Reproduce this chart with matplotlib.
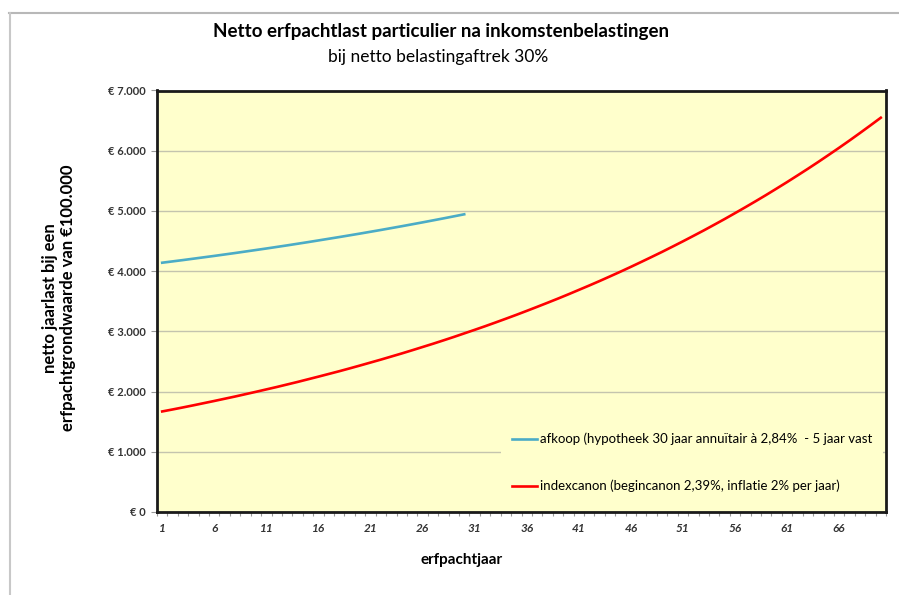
import numpy as np
import matplotlib
matplotlib.use('Agg')
import matplotlib.pyplot as plt
from matplotlib.lines import Line2D

plt.rcParams['font.family'] = ['Lato', 'DejaVu Sans']

# %% Data.
jaren = list(range(1, 71))
afkoop = [4140, 4162, 4184, 4207, 4230, 4253, 4277, 4301, 4326, 4351,
          4376, 4402, 4428, 4455, 4482, 4510, 4538, 4566, 4595, 4624,
          4654, 4684, 4715, 4746, 4778, 4810, 4843, 4876, 4910, 4944]
indexcanon = [1670, 1703, 1737, 1772, 1808, 1844, 1881, 1918, 1957, 1996,
              2036, 2076, 2118, 2160, 2204, 2248, 2293, 2338, 2385, 2433,
              2482, 2531, 2582, 2633, 2686, 2740, 2794, 2850, 2907, 2966,
              3025, 3085, 3147, 3210, 3274, 3340, 3407, 3475, 3544, 3615,
              3688, 3761, 3836, 3913, 3991, 4071, 4153, 4236, 4320, 4407,
              4495, 4585, 4676, 4770, 4865, 4963, 5062, 5163, 5266, 5372,
              5479, 5589, 5700, 5814, 5931, 6049, 6170, 6294, 6420, 6548]
y_ticks = [0, 1000, 2000, 3000, 4000, 5000, 6000, 7000]
y_ticklabels = ['€ 0', '€ 1.000', '€ 2.000', '€ 3.000', '€ 4.000',
                '€ 5.000', '€ 6.000', '€ 7.000']
x_ticks = list(range(1, 70, 5))
labels = ['afkoop (hypotheek 30 jaar annuïtair à 2,84%  - 5 jaar vast',
          'indexcanon (begincanon 2,39%, inflatie 2% per jaar)']

# %% Plotting.
fig = plt.figure(figsize=(8.99, 5.95), dpi=100)
ax = fig.add_axes([157 / 899, 1 - 512 / 595, 729 / 899, 421.5 / 595])
ax.set_facecolor('#FFFFCC')

# Outer chart border (grey, top and left).
fig.add_artist(Line2D([9 / 899, 1], [1 - 13 / 595, 1 - 13 / 595], color='#b8b8b8', lw=1.5))
fig.add_artist(Line2D([10 / 899, 10 / 899], [0, 1 - 13 / 595], color='#c8c8c8', lw=1.5))

ax.plot(jaren[:len(afkoop)], afkoop, color='#4BACC6', lw=1.9, label=labels[0], zorder=3)
ax.plot(jaren, indexcanon, color='#FF0000', lw=1.9, label=labels[1], zorder=3)

ax.set_xlim(0.5, 70.5)
ax.set_ylim(0, 7000)
ax.set_yticks(y_ticks)
ax.set_yticklabels(y_ticklabels, fontsize=8, fontweight='bold', color='#333333')
ax.set_xticks(x_ticks)
ax.set_xticklabels([str(x) for x in x_ticks], fontsize=8.5, fontweight='bold',
                   style='italic', color='#333333')
ax.set_xticks(np.arange(0.5, 71, 1), minor=True)
ax.tick_params(axis='x', which='major', length=0, pad=8)
ax.tick_params(axis='x', which='minor', length=3, color='#999999', width=0.8)
ax.tick_params(axis='y', which='major', length=4, color='#999999', width=0.8, pad=4)

ax.grid(axis='y', color='#c4c4ae', lw=1, zorder=1)
ax.set_axisbelow(True)
for s in ax.spines.values():
    s.set_linewidth(2)
    s.set_color('#1a1a1a')

ax.set_xlabel('erfpachtjaar', fontsize=11, fontweight='bold')
ax.xaxis.set_label_coords((462 - 157) / 729, -(560 - 512) / 421.5)
ax.xaxis.label.set_va('center')
ax.set_ylabel('netto jaarlast bij een\nerfpachtgrondwaarde van €100.000',
              fontsize=12, fontweight='bold', linespacing=1.15)
ax.yaxis.set_label_coords(-(157 - 59) / 729, (512 - 298) / 421.5)
ax.yaxis.label.set_va('center')

fs_leg = 9.5
leg = ax.legend(loc='center left', bbox_to_anchor=(0.4724, 0.1174), frameon=True,
                facecolor='#FFFFCC', edgecolor='none', framealpha=1,
                fontsize=fs_leg, handlelength=1.9, handletextpad=0.25,
                labelspacing=2.6, borderpad=0.8, borderaxespad=0.0)

fig.text(0.49, 1 - 31 / 595, 'Netto erfpachtlast particulier na inkomstenbelastingen',
         ha='center', va='center', fontsize=13.5, fontweight='bold')
fig.text(0.487, 1 - 57 / 595, 'bij netto belastingaftrek 30%',
         ha='center', va='center', fontsize=12.5)

fig.savefig('out.png', dpi=100)
plt.close(fig)
